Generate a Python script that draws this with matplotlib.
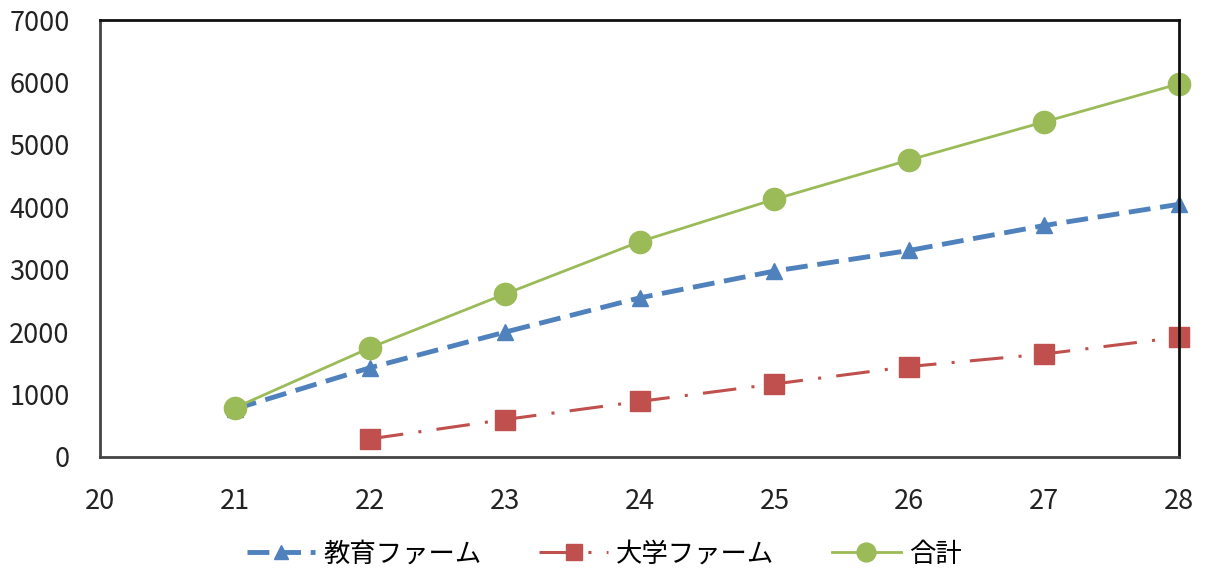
import matplotlib
matplotlib.use('Agg')
import matplotlib.pyplot as plt

plt.rcParams['font.family'] = ['Noto Sans CJK JP', 'DejaVu Sans']

# 年度別の人数
years_edu = [21, 22, 23, 24, 25, 26, 27, 28]
edu_farm = [770, 1430, 2000, 2550, 2980, 3310, 3710, 4050]

years_univ = [22, 23, 24, 25, 26, 27, 28]
univ_farm = [290, 600, 890, 1170, 1450, 1650, 1920]

years_total = [21, 22, 23, 24, 25, 26, 27, 28]
total = [790, 1750, 2610, 3450, 4130, 4760, 5370, 5980]

labels = ['教育ファーム', '大学ファーム', '合計']
xticks = [20, 21, 22, 23, 24, 25, 26, 27, 28]
yticks = [0, 1000, 2000, 3000, 4000, 5000, 6000, 7000]

fig = plt.figure(figsize=(12.08, 5.77), dpi=100)
ax = fig.add_axes([0.083, 0.208, 0.893, 0.757])

ax.plot(years_edu, edu_farm, color='#4f81bd', lw=3.5, linestyle=(0, (4.5, 2)),
        marker='^', markersize=12, label=labels[0])
ax.plot(years_univ, univ_farm, color='#c0504d', lw=2.2, linestyle=(0, (11, 5, 1, 5)),
        marker='s', markersize=14, label=labels[1])
ax.plot(years_total, total, color='#9bbb59', lw=2, linestyle='-',
        marker='o', markersize=16, label=labels[2])

ax.set_xlim(20, 28)
ax.set_ylim(0, 7000)
ax.set_xticks(xticks)
ax.set_yticks(yticks)
ax.tick_params(length=0, labelsize=19.5, colors='#222222')
ax.tick_params(axis='x', pad=22)
ax.tick_params(axis='y', pad=22)

for side in ['left', 'bottom']:
    ax.spines[side].set_color('#444444')
    ax.spines[side].set_linewidth(2)
for side in ['top', 'right']:
    ax.spines[side].set_color('#111111')
    ax.spines[side].set_linewidth(2)
for ln in ax.lines:
    ln.set_clip_on(False)

fig.legend(loc='lower center', bbox_to_anchor=(0.5, -0.025), ncol=3, frameon=False,
           fontsize=19, handlelength=2.6, columnspacing=2.2, handletextpad=0.3,
           markerscale=0.85)

fig.savefig('out.png', dpi=100)
